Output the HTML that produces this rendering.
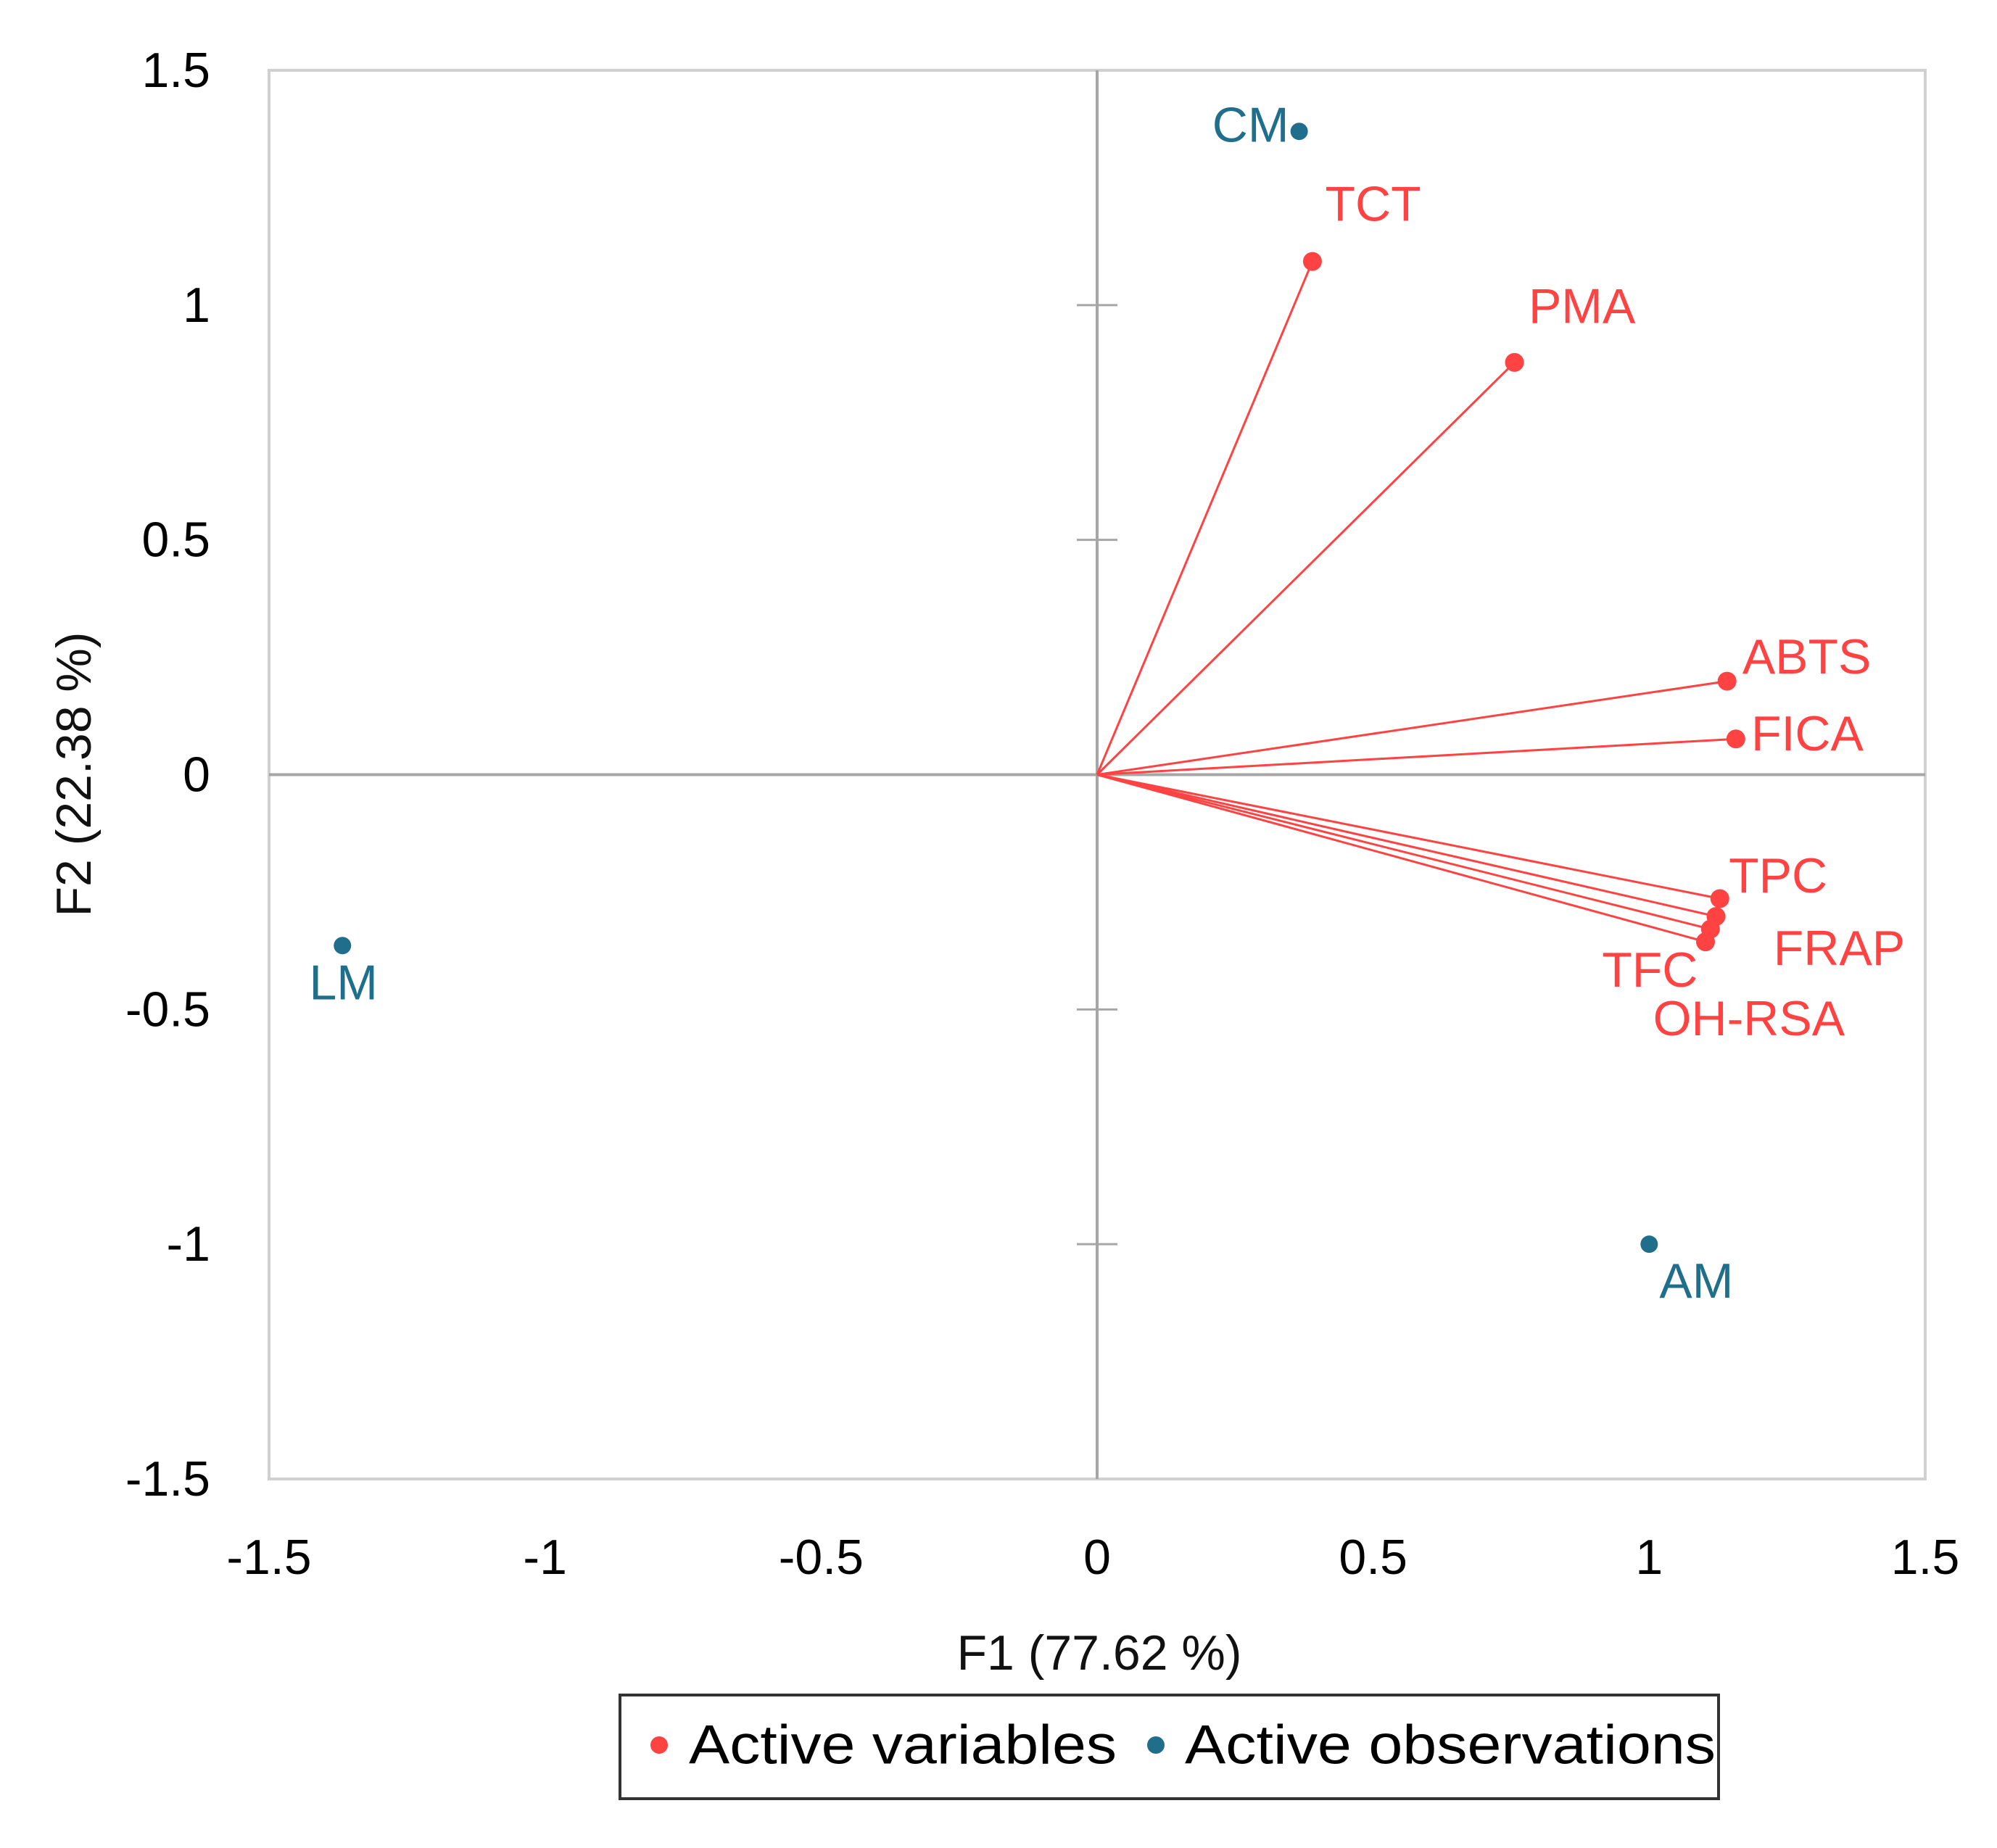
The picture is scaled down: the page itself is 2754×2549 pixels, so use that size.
<!DOCTYPE html>
<html><head><meta charset="utf-8"><style>
html,body{margin:0;padding:0;background:#fff;}
svg{display:block;font-family:"Liberation Sans",sans-serif;}
</style></head><body>
<svg id="chart" width="2754" height="2549" viewBox="0 0 2754 2549" xmlns="http://www.w3.org/2000/svg">
<rect x="0" y="0" width="2754" height="2549" fill="#fff"/>
<g id="frame"></g>
<g id="marks"></g>
<g id="labels"></g>
<text x="1516" y="2280" font-size="68" text-anchor="middle" dominant-baseline="central" fill="#111">F1 (77.62 %)</text>
<text transform="translate(102,1068) rotate(-90)" font-size="68" text-anchor="middle" dominant-baseline="central" fill="#111">F2 (22.38 %)</text>
<g>
<rect x="855" y="2338" width="1515" height="143" fill="#fff" stroke="#333" stroke-width="4"/>
<circle cx="909" cy="2407" r="12" fill="#ff4242"/>
<text x="950" y="2407" font-size="76" dominant-baseline="central" fill="#000" textLength="590" lengthAdjust="spacingAndGlyphs">Active variables</text>
<circle cx="1594" cy="2407" r="12" fill="#1f6e8c"/>
<text x="1634" y="2407" font-size="76" dominant-baseline="central" fill="#000" textLength="732" lengthAdjust="spacingAndGlyphs">Active observations</text>
</g>
</svg>
<script>
const varNames = ["TCT","PMA","ABTS","FICA","TPC","FRAP","OH-RSA","TFC"];
const varF1 = [0.39, 0.756, 1.141, 1.157, 1.128, 1.121, 1.111, 1.102];
const varF2 = [1.093, 0.878, 0.199, 0.076, -0.264, -0.302, -0.329, -0.356];
const obsNames = ["CM","LM","AM"];
const obsF1 = [0.366, -1.367, 1.0];
const obsF2 = [1.37, -0.364, -1.0];
const xTicks = [-1.5, -1, -0.5, 0, 0.5, 1, 1.5];
const yTicks = [-1.5, -1, -0.5, 0, 0.5, 1, 1.5];
const xTickLabels = ["-1.5","-1","-0.5","0","0.5","1","1.5"];
const yTickLabels = ["-1.5","-1","-0.5","0","0.5","1","1.5"];

const L=371, R=2655, T=97, B=2040;
const sx = v => L + (v + 1.5) / 3 * (R - L);
const sy = v => B - (v + 1.5) / 3 * (B - T);
const K = 1.761;
// label offsets (layout only)
const varOff = {"TCT":[10,-45,"start"],"PMA":[11,-44,"start"],"ABTS":[12,-19,"start"],"FICA":[12,-4,"start"],"TPC":[7,-18,"start"],"FRAP":[45,25,"start"],"OH-RSA":[-45,70,"start"],"TFC":[-6,22,"end"]};
const obsOff = {"CM":[-8,-5,"end"],"LM":[-26,29,"start"],"AM":[8,29,"start"]};

const NS="http://www.w3.org/2000/svg";
function mk(tag, attrs, parent){const e=document.createElementNS(NS,tag);for(const k in attrs)e.setAttribute(k,attrs[k]);parent.appendChild(e);return e;}
const frame=document.getElementById('frame'), marks=document.getElementById('marks'), labels=document.getElementById('labels');

let e=mk('rect',{x:L,y:T,width:R-L,height:B-T,fill:'none',stroke:'#d0d0d0','stroke-width':4},frame);


e=mk('line',{x1:L,x2:R,y1:sy(0),y2:sy(0),stroke:'#a6a6a6','stroke-width':4},frame);


e=mk('line',{x1:sx(0),x2:sx(0),y1:T,y2:B,stroke:'#a6a6a6','stroke-width':4},frame);



yTicks.forEach((v,i)=>{
  if(v!==0 && Math.abs(v)!==1.5){
    const t=mk('line',{x1:sx(0)-28,x2:sx(0)+28,y1:sy(v),y2:sy(v),stroke:'#a6a6a6','stroke-width':3},frame);
    
    
  }
  const tl=mk('text',{x:290,y:sy(v),'font-size':68,'text-anchor':'end','dominant-baseline':'central',fill:'#000'},frame);
  tl.textContent=yTickLabels[i];
  
  
});
xTicks.forEach((v,i)=>{
  const tl=mk('text',{x:sx(v),y:2148,'font-size':68,'text-anchor':'middle','dominant-baseline':'central',fill:'#000'},frame);
  tl.textContent=xTickLabels[i];
  
  
});

varNames.forEach((n,i)=>{
  const x=sx(varF1[i]), y=sy(varF2[i]);
  const ln=mk('line',{x1:sx(0),y1:sy(0),x2:x,y2:y,stroke:'#ff4242','stroke-width':3},marks);
  
  
  const c=mk('circle',{cx:x,cy:y,r:13,fill:'#ff4242'},marks);
  
  
  const o=varOff[n];
  const t=mk('text',{x:x+o[0]*K,y:y+o[1]*K,'font-size':68,'text-anchor':o[2],'dominant-baseline':'central',fill:'#ff4242'},labels);
  t.textContent=n;
  
  
});
obsNames.forEach((n,i)=>{
  const x=sx(obsF1[i]), y=sy(obsF2[i]);
  const c=mk('circle',{cx:x,cy:y,r:12,fill:'#1f6e8c'},marks);
  
  
  const o=obsOff[n];
  const t=mk('text',{x:x+o[0]*K,y:y+o[1]*K,'font-size':68,'text-anchor':o[2],'dominant-baseline':'central',fill:'#1f6e8c'},labels);
  t.textContent=n;
  
  
});
</script>
</body></html>
